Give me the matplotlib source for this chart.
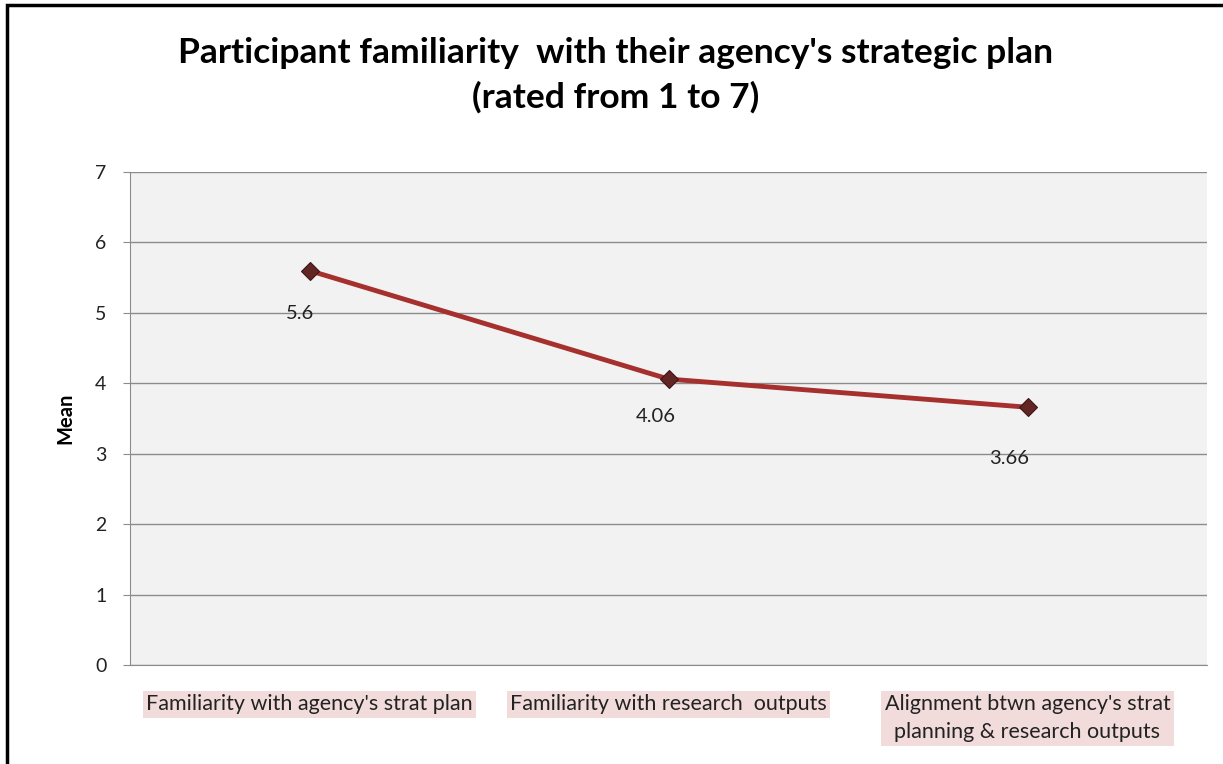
import matplotlib.pyplot as plt
from matplotlib.patches import Rectangle

categories = ["Familiarity with agency's strat plan",
              "Familiarity with research  outputs",
              "Alignment btwn agency's strat\nplanning & research outputs"]
means = [5.6, 4.06, 3.66]
labels = ["5.6", "4.06", "3.66"]
label_offsets = [(-7, -31), (-9, -27), (-13, -37)]  # points
yticks = [0, 1, 2, 3, 4, 5, 6, 7]

plt.rcParams['font.family'] = ['Lato', 'DejaVu Sans']

fig = plt.figure(figsize=(12.23, 7.64), dpi=100)
ax = fig.add_axes([130/1223, 99/764, 1077/1223, 493/764])
ax.set_facecolor('#f2f2f2')

x = range(len(means))
ax.plot(x, means, color='#a5302e', lw=3.5, zorder=3)
ax.plot(x, means, ls='none', marker='D', ms=9, mfc='#632523', mec='#3d1514',
        mew=0.8, zorder=4)
for i, (v, t) in enumerate(zip(means, labels)):
    ax.annotate(t, (i, v), xytext=label_offsets[i], textcoords='offset points',
                ha='center', va='center', fontsize=14.5, color='#222222')

ax.set_xlim(-0.5, 2.5)
ax.set_ylim(0, 7)
ax.set_yticks(yticks)
ax.yaxis.grid(True, color='#8c8c8c', lw=1)
ax.set_axisbelow(True)
for s in ['top', 'right']:
    ax.spines[s].set_visible(False)
ax.spines['left'].set_color('#8c8c8c')
ax.spines['bottom'].set_color('#8c8c8c')
ax.tick_params(axis='y', length=5, color='#8c8c8c', labelsize=14, pad=12,
               labelcolor='#222222')
ax.set_xticks(list(x))
ax.set_xticklabels(categories, fontsize=15.5, color='#222222', va='top',
                   linespacing=1.5)
ax.tick_params(axis='x', length=0, pad=21)
for t in ax.get_xticklabels():
    t.set_bbox(dict(facecolor='#f2dcdb', edgecolor='none', pad=2.5))

ax.set_ylabel('Mean', fontsize=14.5, fontweight='bold', labelpad=14)

fig.text(0.503, 0.902, "Participant familiarity  with their agency's strategic plan\n(rated from 1 to 7)",
         ha='center', va='center', fontsize=25.5, fontweight='bold',
         linespacing=1.45)

fig.patches.append(Rectangle((7/1223, -0.05), 1.1, 1 - 5/764 + 0.05,
                             transform=fig.transFigure, fill=False,
                             edgecolor='black', lw=2.5))

plt.savefig('out.png', dpi=100)
